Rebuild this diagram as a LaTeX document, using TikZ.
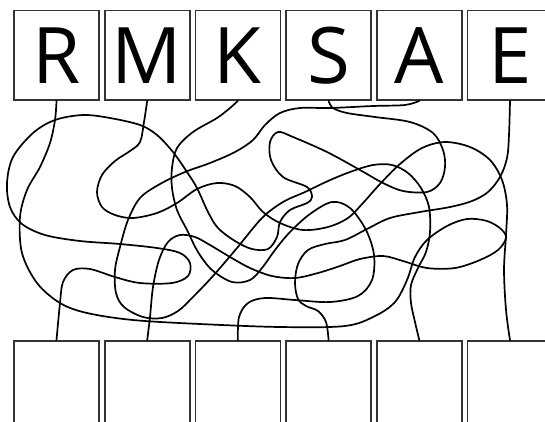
\documentclass[tikz,border=0pt]{standalone}
\usepackage{fontspec}
\newfontfamily\letterfont{Open Sans}
\begin{document}
\begin{tikzpicture}[x=1pt,y=-1pt,
  box/.style={draw=black!80, line width=1.7pt, minimum width=85pt, minimum height=89.5pt, inner sep=0pt,
    font=\letterfont\fontsize{78}{78}\selectfont},
  bbox/.style={draw=black!80, line width=1.7pt, minimum width=85pt, minimum height=89pt, inner sep=0pt},
  strand/.style={draw=black, line width=1.7pt, line join=round, line cap=round}]
\useasboundingbox (0,0) rectangle (545,421);
\clip (0,0) rectangle (545,421);
% top boxes
\node[box] (R) at (56.5,55.25) {R};
\node[box] (M) at (147.2,55.25) {M};
\node[box] (K) at (237.9,55.25) {K};
\node[box] (S) at (328.6,55.25) {S};
\node[box] (A) at (419.3,55.25) {A};
\node[box] (E) at (510,55.25) {E};
% bottom boxes
\node[bbox] (b1) at (56.5,385.5) {};
\node[bbox] (b2) at (147.2,385.5) {};
\node[bbox] (b3) at (237.9,385.5) {};
\node[bbox] (b4) at (328.6,385.5) {};
\node[bbox] (b5) at (419.3,385.5) {};
\node[bbox] (b6) at (510,385.5) {};
% S -> b1
\draw[strand] plot[smooth, tension=0.55] coordinates {(S.south) (333,108) (347,113) (375,117) (410,122) (433,133) (443,150) (445,167) (440,183) (427,192) (403,191) (383,183) (360,170) (327,152) (293,137) (278,132) (270,142) (271,160) (283,177) (307,187) (312,197) (307,203) (290,210) (280,222) (277,237) (268,249) (252,249) (235,241) (218,228) (208,212) (197,188) (187,172) (173,152) (157,135) (140,125) (110,118) (83,115) (55,120) (33,133) (13,157) (7,183) (10,207) (22,224) (45,235) (80,241) (120,244) (157,248) (180,253) (190,263) (188,276) (172,283) (140,283) (115,277) (90,269) (73,270) (63,282) (60,303) (b1.north)};
% R -> b2
\draw[strand] plot[smooth, tension=0.55] coordinates {(R.south) (55,120) (50,143) (40,167) (27,190) (20,217) (22,253) (37,283) (60,303) (87,313) (133,320) (200,324) (280,327) (345,326) (375,316) (395,302) (407,280) (415,257) (427,240) (447,226) (467,219) (487,221) (501,229) (506,238) (498,250) (480,260) (455,268) (427,268) (403,261) (383,256) (360,259) (340,266) (318,273) (295,278) (272,276) (250,268) (230,257) (210,245) (195,237) (180,235) (168,242) (159,260) (153,287) (150,317) (b2.north)};
% M -> b6
\draw[strand] plot[smooth, tension=0.55] coordinates {(M.south) (144,122) (140,142) (130,151) (115,161) (102,175) (97,192) (102,207) (115,215) (133,218) (157,213) (177,203) (197,189) (217,183) (235,186) (250,197) (263,212) (280,223) (303,230) (328,227) (348,218) (363,203) (380,184) (400,164) (422,148) (445,142) (470,147) (490,160) (502,180) (507,205) (506,235) (504,270) (506,310) (b6.north)};
% E -> b4
\draw[strand] plot[smooth, tension=0.55] coordinates {(E.south) (509,135) (507,158) (500,177) (488,192) (472,201) (450,207) (420,212) (390,218) (367,229) (345,240) (325,244) (308,250) (298,264) (295,283) (298,299) (306,306) (318,311) (326,322) (b4.north)};
% A -> b5
\draw[strand] plot[smooth, tension=0.55] coordinates {(A.south) (405,105) (373,106) (330,108) (300,108) (280,113) (265,125) (253,140) (235,152) (210,163) (185,172) (160,184) (140,198) (128,220) (120,247) (115,270) (116,293) (124,307) (143,317) (162,318) (178,311) (192,298) (213,276) (237,248) (262,218) (283,202) (305,192) (328,181) (350,172) (373,165) (392,165) (408,173) (421,188) (429,207) (430,232) (426,252) (418,268) (411,285) (411,303) (415,322) (b5.north)};
% K -> b3
\draw[strand] plot[smooth, tension=0.55] coordinates {(K.south) (230,108) (217,118) (193,132) (177,148) (172,168) (172,188) (177,210) (187,230) (198,252) (212,270) (232,282) (250,280) (262,268) (275,250) (290,232) (310,214) (332,202) (350,208) (366,230) (374,255) (372,280) (358,296) (330,302) (295,300) (265,298) (248,303) (239,317) (b3.north)};
\end{tikzpicture}
\end{document}
